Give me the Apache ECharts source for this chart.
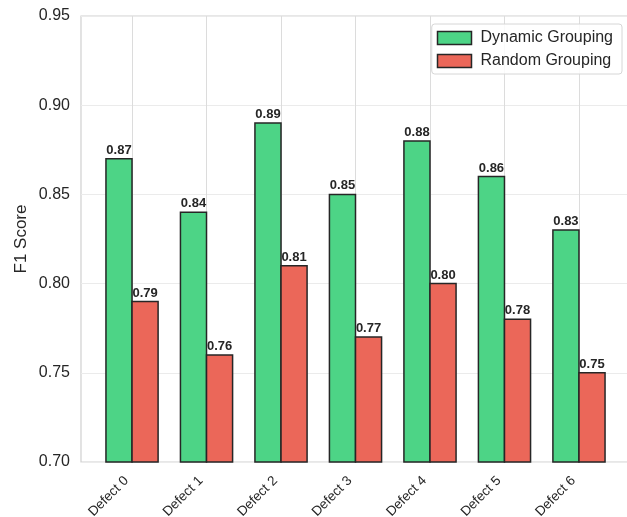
<!DOCTYPE html>
<html>
<head>
<meta charset="utf-8">
<script src="https://cdn.jsdelivr.net/npm/echarts@6/dist/echarts.min.js"></script>
<style>
  html, body { margin: 0; padding: 0; background: #fff; }
  #chart { width: 627px; height: 517px; }
</style>
</head>
<body>
<div id="chart"></div>
<script>
// Categories and F1 scores per grouping strategy
const categories = ['Defect 0', 'Defect 1', 'Defect 2', 'Defect 3', 'Defect 4', 'Defect 5', 'Defect 6'];
const dynamicScores = [0.87, 0.84, 0.89, 0.85, 0.88, 0.86, 0.83];
const randomScores = [0.79, 0.76, 0.81, 0.77, 0.80, 0.78, 0.75];
const yTicks = [0.70, 0.75, 0.80, 0.85, 0.90, 0.95];
const seriesNames = ['Dynamic Grouping', 'Random Grouping'];

const BAR_W = 0.35;          // width of one bar in category units
const Y_MIN = 0.70, Y_MAX = 0.95;
const colors = ['rgb(77,212,134)', 'rgb(235,103,89)'];
const edge = '#262626';
const FONT = '"Liberation Sans", Arial, Helvetica, sans-serif';

function barSeries(name, values, slot) {
  return {
    name: name,
    type: 'custom',
    xAxisIndex: 0,
    yAxisIndex: 0,
    itemStyle: { color: colors[slot], borderColor: edge, borderWidth: 1.5 },
    data: values.map((v, i) => [i, v]),
    encode: { x: 0, y: 1 },
    renderItem: function (params, api) {
      const i = api.value(0);
      const v = api.value(1);
      const x0 = i - BAR_W + slot * BAR_W;
      const p0 = api.coord([x0, v]);
      const p1 = api.coord([x0 + BAR_W, Y_MIN]);
      return {
        type: 'group',
        children: [
          {
            type: 'rect',
            shape: { x: p0[0], y: p0[1], width: p1[0] - p0[0], height: p1[1] - p0[1] },
            style: { fill: colors[slot], stroke: edge, lineWidth: 1.5 }
          },
          {
            type: 'text',
            x: (p0[0] + p1[0]) / 2,
            y: p0[1] - 2,
            style: {
              text: v.toFixed(2),
              fill: '#262626',
              font: 'bold 13px ' + FONT,
              align: 'center',
              verticalAlign: 'bottom'
            }
          }
        ]
      };
    }
  };
}

const chart = echarts.init(document.getElementById('chart'), null, { renderer: 'canvas' });
chart.setOption({
  animation: false,
  backgroundColor: '#ffffff',
  textStyle: { fontFamily: FONT },
  grid: {
    left: 81, top: 16, width: 549, height: 446,
    containLabel: false,
    outerBoundsMode: 'none',
    show: true, borderColor: '#d0d0d0', borderWidth: 1.2, backgroundColor: 'transparent'
  },
  legend: {
    orient: 'vertical',
    right: 5,
    top: 24,
    padding: [6, 9, 5, 5],
    itemWidth: 34,
    itemHeight: 13,
    itemGap: 7,
    backgroundColor: 'rgba(255,255,255,0.85)',
    borderColor: '#d6d6d6',
    borderWidth: 1,
    borderRadius: 3,
    textStyle: { fontSize: 16, color: '#262626', fontFamily: FONT, padding: [0, 0, 0, 4] },
    data: seriesNames.map((n, k) => ({
      name: n,
      icon: 'rect',
      itemStyle: { color: colors[k], borderColor: edge, borderWidth: 1.5 }
    }))
  },
  xAxis: {
    type: 'value',
    min: -0.685,
    max: 6.685,
    axisLine: { show: false },
    axisTick: { show: false, customValues: categories.map((c, i) => i) },
    axisLabel: {
      customValues: categories.map((c, i) => i),
      formatter: (v) => categories[Math.round(v)],
      rotate: 45,
      fontSize: 13.5,
      color: '#262626',
      fontFamily: FONT,
      margin: 11,
      padding: [0, 8, 0, 0]
    },
    splitLine: { show: true, lineStyle: { color: '#dcdcdc', width: 1 } }
  },
  yAxis: {
    type: 'value',
    min: Y_MIN,
    max: Y_MAX,
    interval: 0.05,
    name: 'F1 Score',
    nameLocation: 'middle',
    nameGap: 51,
    nameMoveOverlap: false,
    nameTextStyle: { fontSize: 17, color: '#262626', fontFamily: FONT },
    axisLine: { show: false },
    axisTick: { show: false },
    axisLabel: {
      fontSize: 16,
      color: '#262626',
      fontFamily: FONT,
      margin: 11,
      formatter: (v) => {
        const t = yTicks.find(tk => Math.abs(tk - v) < 1e-9);
        return (t !== undefined ? t : v).toFixed(2);
      }
    },
    splitLine: { show: true, lineStyle: { color: '#ebebeb', width: 1 } }
  },
  series: [
    barSeries(seriesNames[0], dynamicScores, 0),
    barSeries(seriesNames[1], randomScores, 1)
  ]
});
</script>
</body>
</html>
